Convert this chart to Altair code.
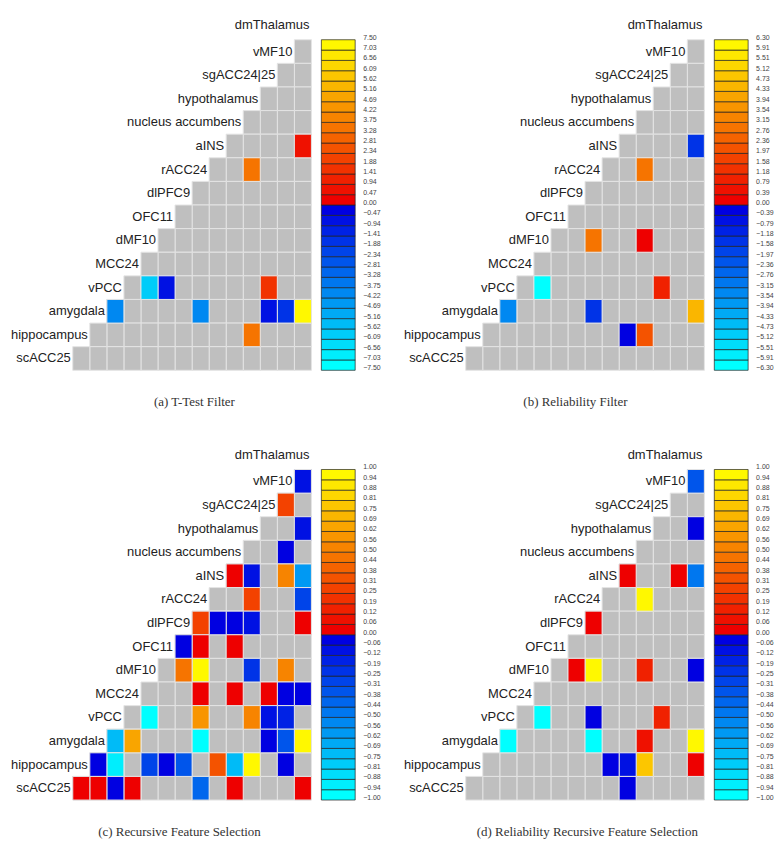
import altair as alt
import pandas as pd

REGIONS = ["dmThalamus", "vMF10", "sgACC24|25", "hypothalamus", "nucleus accumbens",
           "aINS", "rACC24", "dlPFC9", "OFC11", "dMF10", "MCC24", "vPCC",
           "amygdala", "hippocampus", "scACC25"]

# ---- (a) T-Test Filter ----
A_ROW = ["aINS", "rACC24", "vPCC", "vPCC", "vPCC", "amygdala", "amygdala",
         "amygdala", "amygdala", "amygdala", "hippocampus"]
A_COL = ["dmThalamus", "hypothalamus", "dMF10", "OFC11", "sgACC24|25", "vPCC",
         "rACC24", "sgACC24|25", "vMF10", "dmThalamus", "hypothalamus"]
A_VAL = [0.7, 3.5, -5.9, -0.7, 1.7, -4.0, -4.0, -0.8, -1.6, 7.2, 3.3]
A_MAX = 7.5
A_TICKS = ["0.00", "0.47", "0.94", "1.41", "1.88", "2.34", "2.81", "3.28", "3.75",
           "4.22", "4.69", "5.16", "5.62", "6.09", "6.56", "7.03", "7.50"]

# ---- (b) Reliability Filter ----
B_ROW = ["aINS", "rACC24", "dMF10", "dMF10", "vPCC", "vPCC", "amygdala",
         "amygdala", "amygdala", "hippocampus", "hippocampus"]
B_COL = ["dmThalamus", "hypothalamus", "rACC24", "hypothalamus", "dMF10",
         "sgACC24|25", "vPCC", "rACC24", "dmThalamus", "nucleus accumbens", "hypothalamus"]
B_VAL = [-1.5, 2.9, 2.9, 0.3, -6.1, 1.0, -3.3, -1.2, 4.6, -0.3, 2.2]
B_MAX = 6.3
B_TICKS = ["0.00", "0.39", "0.79", "1.18", "1.58", "1.97", "2.36", "2.76", "3.15",
           "3.54", "3.94", "4.33", "4.73", "5.12", "5.51", "5.91", "6.30"]

# ---- (c) Recursive Feature Selection ----
C_ROW = ["vMF10", "sgACC24|25", "hypothalamus", "nucleus accumbens",
         "aINS", "aINS", "aINS", "aINS",
         "rACC24", "rACC24",
         "dlPFC9", "dlPFC9", "dlPFC9", "dlPFC9", "dlPFC9",
         "OFC11", "OFC11", "OFC11",
         "dMF10", "dMF10", "dMF10", "dMF10",
         "MCC24", "MCC24", "MCC24", "MCC24", "MCC24",
         "vPCC", "vPCC", "vPCC", "vPCC", "vPCC",
         "amygdala", "amygdala", "amygdala", "amygdala", "amygdala", "amygdala",
         "hippocampus", "hippocampus", "hippocampus", "hippocampus", "hippocampus",
         "hippocampus", "hippocampus", "hippocampus", "hippocampus",
         "scACC25", "scACC25", "scACC25", "scACC25", "scACC25", "scACC25", "scACC25"]
C_COL = ["dmThalamus", "vMF10", "dmThalamus", "vMF10",
         "nucleus accumbens", "hypothalamus", "vMF10", "dmThalamus",
         "hypothalamus", "dmThalamus",
         "rACC24", "aINS", "nucleus accumbens", "hypothalamus", "dmThalamus",
         "dlPFC9", "rACC24", "nucleus accumbens",
         "dlPFC9", "rACC24", "hypothalamus", "vMF10",
         "rACC24", "nucleus accumbens", "sgACC24|25", "vMF10", "dmThalamus",
         "dMF10", "rACC24", "hypothalamus", "sgACC24|25", "vMF10",
         "vPCC", "MCC24", "rACC24", "sgACC24|25", "vMF10", "dmThalamus",
         "amygdala", "vPCC", "dMF10", "OFC11", "dlPFC9",
         "aINS", "nucleus accumbens", "hypothalamus", "vMF10",
         "hippocampus", "amygdala", "vPCC", "MCC24", "rACC24", "nucleus accumbens", "dmThalamus"]
C_VAL = [-0.1, 0.3, -0.1, -0.05,
         0.05, -0.08, 0.5, -0.6,
         0.3, -0.3,
         0.28, -0.05, -0.05, -0.12, 0.05,
         -0.05, 0.05, 0.05,
         0.47, 0.95, -0.2, 0.55,
         0.05, 0.05, 0.05, -0.05, -0.05,
         -0.95, 0.6, 0.55, -0.1, -0.15,
         -0.7, 0.65, -0.95, -0.05, -0.35, 0.97,
         -0.05, -0.9, -0.28, -0.05, -0.35,
         0.35, -0.75, 0.97, -0.05,
         0.05, 0.05, -0.05, 0.05, -0.4, 0.05, 0.05]
C_MAX = 1.0
CD_TICKS = ["0.00", "0.06", "0.12", "0.19", "0.25", "0.31", "0.38", "0.44", "0.50",
            "0.56", "0.62", "0.69", "0.75", "0.81", "0.88", "0.94", "1.00"]

# ---- (d) Reliability Recursive Feature Selection ----
D_ROW = ["vMF10", "hypothalamus", "aINS", "aINS", "aINS", "rACC24", "dlPFC9",
         "dMF10", "dMF10", "dMF10", "dMF10", "vPCC", "vPCC", "vPCC",
         "amygdala", "amygdala", "amygdala", "amygdala",
         "hippocampus", "hippocampus", "hippocampus", "hippocampus", "scACC25"]
D_COL = ["dmThalamus", "dmThalamus", "nucleus accumbens", "vMF10", "dmThalamus",
         "hypothalamus", "rACC24",
         "dlPFC9", "rACC24", "hypothalamus", "dmThalamus",
         "dMF10", "rACC24", "sgACC24|25",
         "vPCC", "rACC24", "hypothalamus", "dmThalamus",
         "aINS", "nucleus accumbens", "hypothalamus", "dmThalamus", "nucleus accumbens"]
D_VAL = [-0.35, -0.05, 0.05, 0.05, -0.5, 0.97, 0.05,
         0.05, 0.97, 0.15, -0.05, -0.95, -0.05, 0.15,
         -0.95, -0.95, 0.08, 0.97,
         -0.05, -0.12, 0.78, 0.05, -0.05]
D_MAX = 1.0

# ---- colormap (cool for negatives, hot for positives), 32 discrete bins ----
def _hex(r, g, b):
    return "#%02x%02x%02x" % (int(round(r)), int(round(g)), int(round(b)))

NEG_COLORS = [_hex(0, 255 * (15 - m) / 15, 225 + 30 * (15 - m) / 15) for m in range(16)]
POS_COLORS = [_hex(238 + 17 * p / 15, 248 * p / 15, 0) for p in range(16)]
COLORS = NEG_COLORS + POS_COLORS

GRAY = "#bfbfbf"
LINE = "#e4e4e4"
NROW = len(REGIONS)


def heat_chart(rows, cols, vals, vmax):
    lookup = {(r, c): v for r, c, v in zip(rows, cols, vals)}
    recs = []
    for i in range(1, NROW):
        for j in range(i):
            recs.append({"row": REGIONS[i], "col": REGIONS[j],
                         "x1": 13 - j, "x2": 14 - j, "y1": i, "y2": i + 1,
                         "value": lookup.get((REGIONS[i], REGIONS[j]))})
    cells = pd.DataFrame(recs)
    labels = pd.DataFrame({"name": REGIONS,
                           "lx": [NROW - 1 - i for i in range(NROW)],
                           "ly": [i + 0.5 for i in range(NROW)]})
    xs = alt.Scale(domain=[-3.8, 14], nice=False, zero=False)
    ys = alt.Scale(domain=[0, 15], nice=False, zero=False, reverse=True)
    step = vmax / 16
    bounds = [-vmax + k * step for k in range(1, 32)]

    base = alt.Chart(cells).mark_rect(fill=GRAY, stroke=LINE, strokeWidth=1).encode(
        x=alt.X("x1:Q", scale=xs, axis=None), x2="x2:Q",
        y=alt.Y("y1:Q", scale=ys, axis=None), y2="y2:Q")
    colored = alt.Chart(cells).transform_filter("datum.value != null").mark_rect(
        stroke=LINE, strokeWidth=1).encode(
        x=alt.X("x1:Q", scale=xs, axis=None), x2="x2:Q",
        y=alt.Y("y1:Q", scale=ys, axis=None), y2="y2:Q",
        color=alt.Color("value:Q", scale=alt.Scale(type="threshold", domain=bounds,
                                                   range=COLORS), legend=None))
    text_style = dict(align="right", baseline="middle", dx=-2,
                      font="Liberation Sans", fontSize=13, color="#222")
    enc = dict(x=alt.X("lx:Q", scale=xs, axis=None),
               y=alt.Y("ly:Q", scale=ys, axis=None), text="name:N")
    text_rows = alt.Chart(labels).transform_filter("datum.ly > 1").mark_text(
        **text_style).encode(**enc)
    text_top = alt.Chart(labels).transform_filter("datum.ly < 1").mark_text(
        dy=-3, **text_style).encode(**enc)
    return alt.layer(base, colored, text_rows, text_top).properties(width=305, height=356)


def colorbar_chart(vmax, ticks_pos):
    step = vmax / 16
    bins = pd.DataFrame({"lo": [-vmax + k * step for k in range(32)],
                         "hi": [-vmax + (k + 1) * step for k in range(32)],
                         "c": COLORS})
    neg = ["\u2212" + t for t in ticks_pos[1:]][::-1]
    tick_text = neg + ticks_pos
    ticks = pd.DataFrame({"v": [-vmax + k * step for k in range(33)], "t": tick_text})
    ys = alt.Scale(domain=[-vmax, vmax + 2 * vmax / 14], nice=False, zero=False)
    bar = alt.Chart(bins).mark_rect(stroke="#222", strokeWidth=0.7).encode(
        x=alt.value(0), x2=alt.value(34),
        y=alt.Y("lo:Q", scale=ys, axis=None), y2="hi:Q",
        fill=alt.Color("c:N", scale=None))
    lab = alt.Chart(ticks).mark_text(align="left", baseline="middle", dy=-2,
                                     font="Liberation Sans", fontSize=7,
                                     color="#444").encode(
        x=alt.value(42), y=alt.Y("v:Q", scale=ys, axis=None), text="t:N")
    return alt.layer(bar, lab).properties(width=34, height=356)


def panel(rows, cols, vals, vmax, ticks, caption, dx=0):
    return alt.hconcat(heat_chart(rows, cols, vals, vmax), colorbar_chart(vmax, ticks),
                       spacing=8).properties(
        title=alt.TitleParams(caption, orient="bottom", anchor="middle",
                              font="Liberation Serif", fontSize=13, fontWeight="normal",
                              color="#333", offset=25, dx=dx))


pa = panel(A_ROW, A_COL, A_VAL, A_MAX, A_TICKS, "(a) T-Test Filter")
pb = panel(B_ROW, B_COL, B_VAL, B_MAX, B_TICKS, "(b) Reliability Filter", dx=-12)
pc = panel(C_ROW, C_COL, C_VAL, C_MAX, CD_TICKS, "(c) Recursive Feature Selection", dx=-15)
pd_ = panel(D_ROW, D_COL, D_VAL, D_MAX, CD_TICKS, "(d) Reliability Recursive Feature Selection")

top = alt.hconcat(pa, pb, spacing=20).resolve_scale(color="independent")
bottom = alt.hconcat(pc, pd_, spacing=20).resolve_scale(color="independent")

chart = alt.vconcat(top, bottom, spacing=37).resolve_scale(color="independent").properties(
    padding={"left": 0, "top": 6, "right": 0, "bottom": 0}
).configure_view(stroke=None)

chart.save("out.html", embed_options={"renderer": "svg", "actions": False})
